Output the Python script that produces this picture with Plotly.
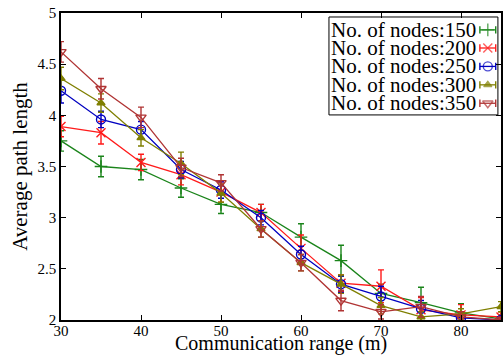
import plotly.graph_objects as go

comm_range = [30, 35, 40, 45, 50, 55, 60, 65, 70, 75, 80, 85]

labels = ["No. of nodes:150", "No. of nodes:200", "No. of nodes:250",
          "No. of nodes:300", "No. of nodes:350"]

nodes150 = [3.75, 3.50, 3.47, 3.29, 3.13, 3.05, 2.81, 2.58, 2.26, 2.17, 2.07, 2.01]
nodes200 = [3.89, 3.83, 3.54, 3.42, 3.25, 3.05, 2.70, 2.36, 2.33, 2.10, 2.05, 2.03]
nodes250 = [4.24, 3.96, 3.86, 3.47, 3.27, 3.00, 2.64, 2.35, 2.23, 2.11, 2.02, 2.00]
nodes300 = [4.36, 4.12, 3.78, 3.53, 3.24, 2.89, 2.56, 2.35, 2.14, 2.03, 2.06, 2.13]
nodes350 = [4.62, 4.26, 3.98, 3.49, 3.34, 2.89, 2.56, 2.19, 2.08, 2.13, 2.03, 2.00]

err150 = [0.10, 0.10, 0.10, 0.09, 0.09, 0.08, 0.13, 0.15, 0.09, 0.15, 0.09, 0.04]
err200 = [0.10, 0.11, 0.08, 0.10, 0.10, 0.08, 0.13, 0.08, 0.16, 0.12, 0.10, 0.05]
err250 = [0.12, 0.08, 0.08, 0.08, 0.08, 0.07, 0.08, 0.08, 0.10, 0.08, 0.06, 0.03]
err300 = [0.11, 0.09, 0.08, 0.11, 0.09, 0.08, 0.08, 0.09, 0.08, 0.05, 0.05, 0.05]
err350 = [0.10, 0.10, 0.10, 0.09, 0.08, 0.08, 0.08, 0.10, 0.07, 0.10, 0.05, 0.03]

series = [nodes150, nodes200, nodes250, nodes300, nodes350]
errors = [err150, err200, err250, err300, err350]
colors = ["#1a841a", "#ff1a1a", "#0000c0", "#7f7f00", "#b03434"]
symbols = ["cross-thin-open", "x-thin-open", "circle-open", "triangle-up", "triangle-down-open"]
sizes = [9, 9, 9, 7, 9]

FONT = "Liberation Serif"

fig = go.Figure()
for ys, es, c, s, sz, lab in zip(series, errors, colors, symbols, sizes, labels):
    fig.add_trace(go.Scatter(
        x=comm_range, y=ys, mode="lines+markers", name=lab, showlegend=False,
        line=dict(color=c, width=1.3),
        marker=dict(symbol=s, size=sz, color=c, line=dict(color=c, width=1.4)),
        error_y=dict(type="data", array=es, visible=True, color=c, thickness=1.4, width=3),
    ))

# custom legend (text left, sample right) on an overlay axis
legend_rows = [0.945, 0.886, 0.826, 0.766, 0.706]
for yr, c, s, sz, lab in zip(legend_rows, colors, symbols, sizes, labels):
    fig.add_trace(go.Scatter(
        x=[0.952, 0.970, 0.988], y=[yr, yr, yr], xaxis="x2", yaxis="y2",
        mode="lines+markers", showlegend=False, hoverinfo="skip",
        line=dict(color=c, width=1.3),
        marker=dict(symbol=s, size=[0, sz, 0], color=c, line=dict(color=c, width=1.4)),
        error_y=dict(type="data", array=[0.012, 0, 0.012], visible=True, color=c,
                     thickness=1.4, width=0),
    ))
    fig.add_annotation(x=0.948, y=yr, xref="paper", yref="paper", text=lab,
                       showarrow=False, xanchor="right", yanchor="middle",
                       font=dict(family=FONT, size=21, color="black"))

fig.add_shape(type="rect", xref="paper", yref="paper", x0=0.609, x1=0.993,
              y0=0.668, y1=0.987, line=dict(color="black", width=1), fillcolor="white",
              layer="below")

# x axis title as annotation, placed at the bottom of the canvas
fig.add_annotation(x=0.5, y=0, xref="paper", yref="paper", yshift=-37,
                   text="Communication range (m)", showarrow=False,
                   xanchor="center", yanchor="bottom",
                   font=dict(family=FONT, size=20, color="black"))

fig.update_layout(
    width=503, height=355,
    margin=dict(l=61, r=0, t=13, b=35),
    paper_bgcolor="white", plot_bgcolor="white",
    font=dict(family=FONT, size=15, color="black"),
    xaxis=dict(range=[30, 85], tickvals=[30, 40, 50, 60, 70, 80], ticks="inside",
               ticklen=5, tickwidth=1, tickcolor="black", showline=True, linecolor="black",
               linewidth=1.5, mirror="ticks", showgrid=False, zeroline=False,
               ticklabelstandoff=-4, tickfont=dict(size=15)),
    yaxis=dict(range=[2, 5], tickvals=[2, 2.5, 3, 3.5, 4, 4.5, 5], ticks="inside",
               ticklen=5, tickwidth=1, tickcolor="black", showline=True, linecolor="black",
               linewidth=1.5, mirror="ticks", showgrid=False, zeroline=False,
               title=dict(text="Average path length", font=dict(size=21), standoff=4),
               tickfont=dict(size=15)),
    xaxis2=dict(range=[0, 1], overlaying="x", visible=False),
    yaxis2=dict(range=[0, 1], overlaying="y", visible=False),
)

fig.write_html("out.html")
